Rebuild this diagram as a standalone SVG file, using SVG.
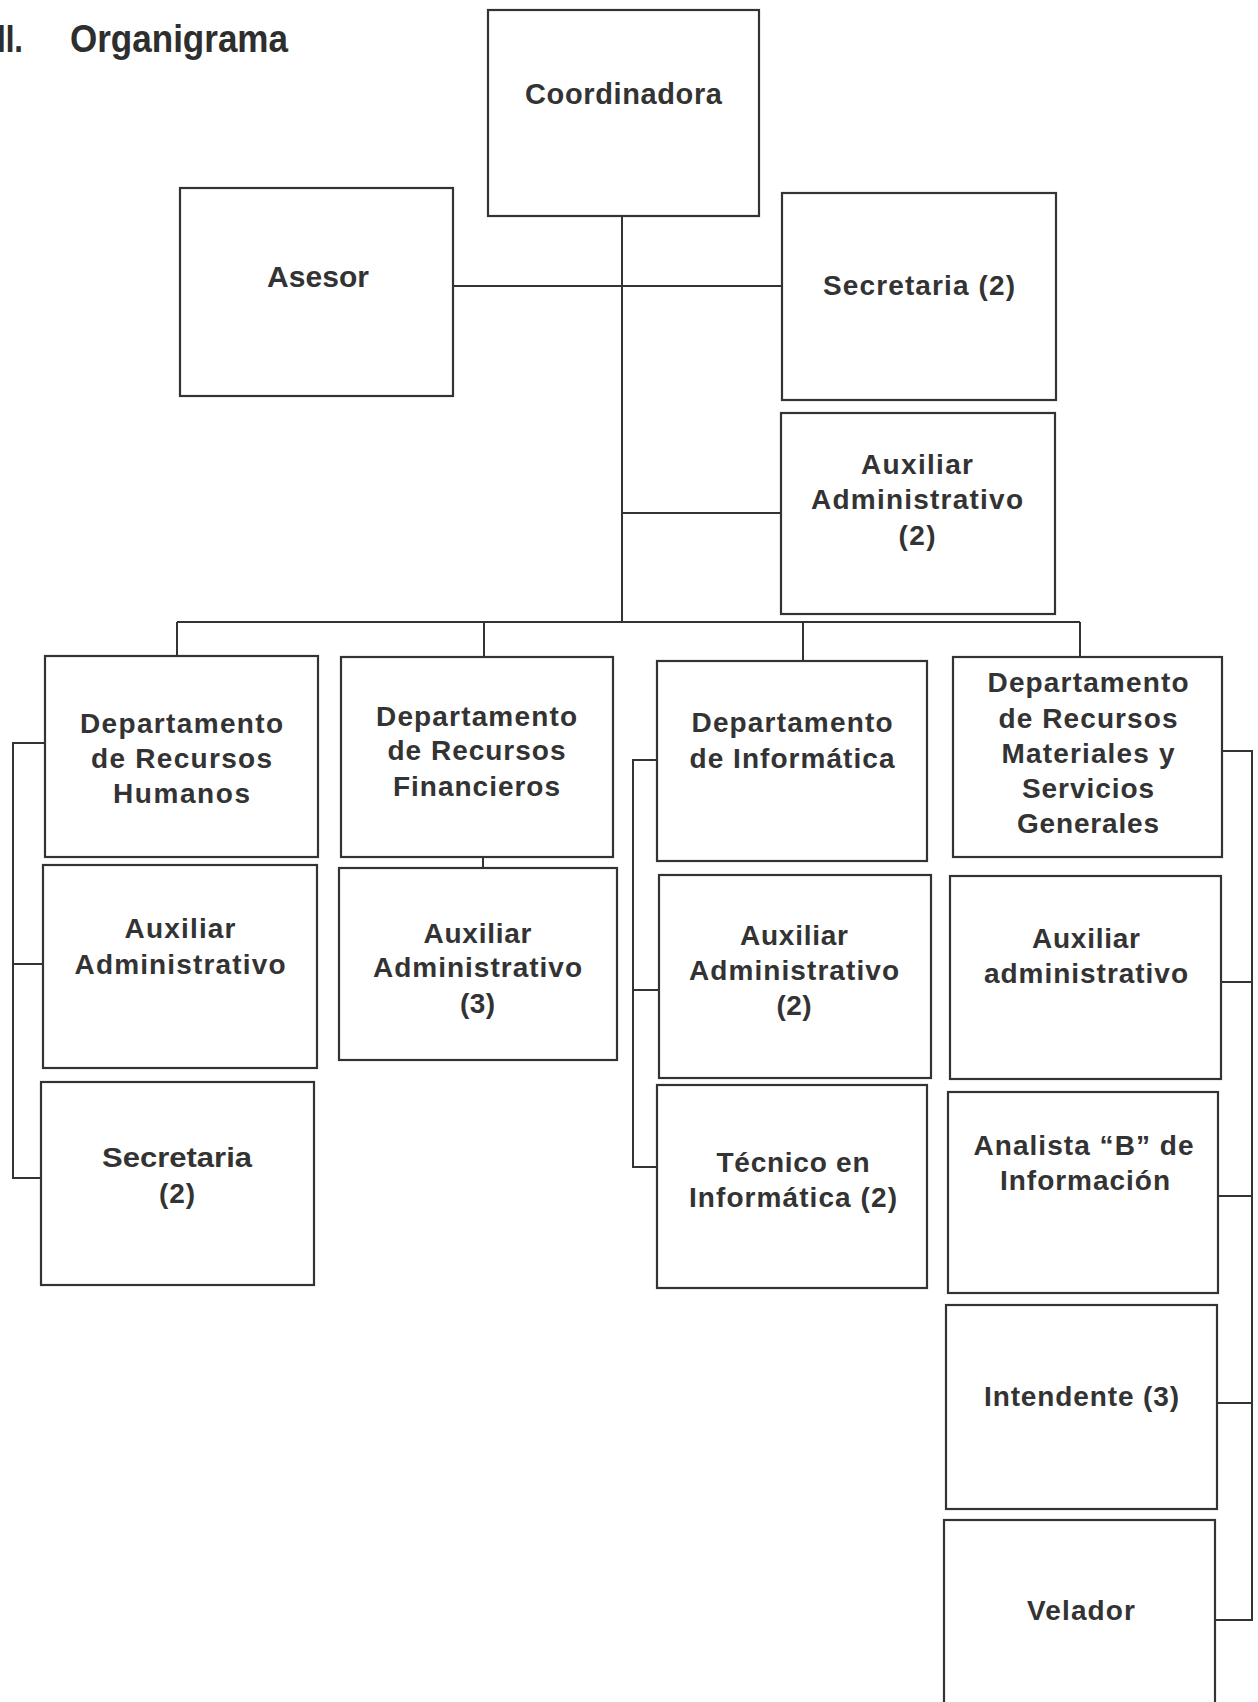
<svg xmlns="http://www.w3.org/2000/svg" width="1258" height="1702" viewBox="0 0 1258 1702">
  <defs>
    <style>
      .box { fill: #ffffff; stroke: #333333; stroke-width: 2.2; }
      .wire { fill: none; stroke: #333333; stroke-width: 2; }
      text { font-family: "Liberation Sans", Arial, sans-serif; font-weight: bold; fill: #333333; text-anchor: middle; }
      .t26 { font-size: 28px; }
      .title { font-size: 38px; fill: #2e2e2e; text-anchor: start; }
    </style>
  </defs>

  <rect width="1258" height="1702" fill="#ffffff"/>

  <!-- Heading -->
  <g id="heading">
    <text class="title" x="-3" y="52" textLength="26" lengthAdjust="spacingAndGlyphs">II.</text>
    <text class="title" x="70" y="52" textLength="218" lengthAdjust="spacingAndGlyphs">Organigrama</text>
  </g>

  <!-- Connectors -->
  <g id="connectors">
    <path class="wire" d="M622 216 V622"/>
    <path class="wire" d="M453 286 H782"/>
    <path class="wire" d="M621 513 H781"/>
    <path class="wire" d="M177 622 H1080"/>
    <path class="wire" d="M177 622 V656 M484 622 V657 M803 622 V661 M1080 622 V657"/>
    <path class="wire" d="M483 857 V868"/>
    <path class="wire" d="M45 743 H13 V1178 H41 M13 964 H43"/>
    <path class="wire" d="M657 760 H633 V1167 H656 M633 990 H659"/>
    <path class="wire" d="M1222 751 H1252 V1620 H1215 M1221 982 H1252 M1218 1196 H1252 M1217 1403 H1252"/>
  </g>

  <!-- Top level -->
  <g id="coordinadora">
    <rect class="box" x="488" y="10" width="271" height="206"/>
    <text x="623.5" y="104" font-size="29" textLength="197" lengthAdjust="spacing">Coordinadora</text>
  </g>
  <g id="asesor">
    <rect class="box" x="180" y="188" width="273" height="208"/>
    <text x="318" y="287" font-size="30" textLength="102" lengthAdjust="spacing">Asesor</text>
  </g>
  <g id="secretaria-coord">
    <rect class="box" x="782" y="193" width="274" height="207"/>
    <text x="919" y="295" font-size="28" textLength="192" lengthAdjust="spacing">Secretaria (2)</text>
  </g>
  <g id="auxiliar-coord">
    <rect class="box" x="781" y="413" width="274" height="201"/>
    <text class="t26" x="917" y="474" textLength="112" lengthAdjust="spacing">Auxiliar</text>
    <text class="t26" x="917" y="509" textLength="212" lengthAdjust="spacing">Administrativo</text>
    <text class="t26" x="917" y="545" textLength="37" lengthAdjust="spacing">(2)</text>
  </g>

  <!-- Recursos Humanos -->
  <g id="depto-rh">
    <rect class="box" x="45" y="656" width="273" height="201"/>
    <text class="t26" x="181.5" y="733" textLength="203" lengthAdjust="spacing">Departamento</text>
    <text class="t26" x="181.5" y="768" textLength="181" lengthAdjust="spacing">de Recursos</text>
    <text class="t26" x="181.5" y="803" textLength="137" lengthAdjust="spacing">Humanos</text>
  </g>
  <g id="rh-auxiliar">
    <rect class="box" x="43" y="865" width="274" height="203"/>
    <text class="t26" x="180" y="938" textLength="111" lengthAdjust="spacing">Auxiliar</text>
    <text class="t26" x="180" y="974" textLength="211" lengthAdjust="spacing">Administrativo</text>
  </g>
  <g id="rh-secretaria">
    <rect class="box" x="41" y="1082" width="273" height="203"/>
    <text class="t26" x="177" y="1167" textLength="150" lengthAdjust="spacingAndGlyphs">Secretaria</text>
    <text class="t26" x="177" y="1203" textLength="36" lengthAdjust="spacing">(2)</text>
  </g>

  <!-- Recursos Financieros -->
  <g id="depto-rf">
    <rect class="box" x="341" y="657" width="272" height="200"/>
    <text class="t26" x="476.5" y="726" textLength="201" lengthAdjust="spacing">Departamento</text>
    <text class="t26" x="476.5" y="760" textLength="178" lengthAdjust="spacing">de Recursos</text>
    <text class="t26" x="476.5" y="796" textLength="167" lengthAdjust="spacing">Financieros</text>
  </g>
  <g id="rf-auxiliar">
    <rect class="box" x="339" y="868" width="278" height="192"/>
    <text class="t26" x="477.5" y="943" textLength="108" lengthAdjust="spacing">Auxiliar</text>
    <text class="t26" x="477.5" y="977" textLength="209" lengthAdjust="spacing">Administrativo</text>
    <text class="t26" x="477.5" y="1013" textLength="35" lengthAdjust="spacing">(3)</text>
  </g>

  <!-- Informática -->
  <g id="depto-inf">
    <rect class="box" x="657" y="661" width="270" height="200"/>
    <text class="t26" x="792" y="732" textLength="201" lengthAdjust="spacing">Departamento</text>
    <text class="t26" x="792" y="768" textLength="205" lengthAdjust="spacing">de Informática</text>
  </g>
  <g id="inf-auxiliar">
    <rect class="box" x="659" y="875" width="272" height="203"/>
    <text class="t26" x="794" y="945" textLength="108" lengthAdjust="spacing">Auxiliar</text>
    <text class="t26" x="794" y="980" textLength="210" lengthAdjust="spacing">Administrativo</text>
    <text class="t26" x="794" y="1015" textLength="35" lengthAdjust="spacing">(2)</text>
  </g>
  <g id="inf-tecnico">
    <rect class="box" x="657" y="1085" width="270" height="203"/>
    <text class="t26" x="793" y="1172" textLength="153" lengthAdjust="spacing">Técnico en</text>
    <text class="t26" x="793" y="1207" textLength="208" lengthAdjust="spacing">Informática (2)</text>
  </g>

  <!-- Recursos Materiales y Servicios Generales -->
  <g id="depto-rm">
    <rect class="box" x="953" y="657" width="269" height="200"/>
    <text class="t26" x="1088" y="692" textLength="201" lengthAdjust="spacing">Departamento</text>
    <text class="t26" x="1088" y="728" textLength="179" lengthAdjust="spacing">de Recursos</text>
    <text class="t26" x="1088" y="763" textLength="173" lengthAdjust="spacing">Materiales y</text>
    <text class="t26" x="1088" y="798" textLength="132" lengthAdjust="spacing">Servicios</text>
    <text class="t26" x="1088" y="833" textLength="142" lengthAdjust="spacing">Generales</text>
  </g>
  <g id="rm-auxiliar">
    <rect class="box" x="950" y="876" width="271" height="203"/>
    <text class="t26" x="1086" y="948" textLength="108" lengthAdjust="spacing">Auxiliar</text>
    <text class="t26" x="1086" y="983" textLength="204" lengthAdjust="spacing">administrativo</text>
  </g>
  <g id="rm-analista">
    <rect class="box" x="948" y="1092" width="270" height="201"/>
    <text class="t26" x="1083.5" y="1155" textLength="220" lengthAdjust="spacing">Analista “B” de</text>
    <text class="t26" x="1085" y="1190" textLength="170" lengthAdjust="spacing">Información</text>
  </g>
  <g id="rm-intendente">
    <rect class="box" x="946" y="1305" width="271" height="204"/>
    <text class="t26" x="1081.5" y="1406" textLength="195" lengthAdjust="spacing">Intendente (3)</text>
  </g>
  <g id="rm-velador">
    <rect class="box" x="944" y="1520" width="271" height="210"/>
    <text class="t26" x="1081" y="1620" textLength="108" lengthAdjust="spacing">Velador</text>
  </g>
</svg>
